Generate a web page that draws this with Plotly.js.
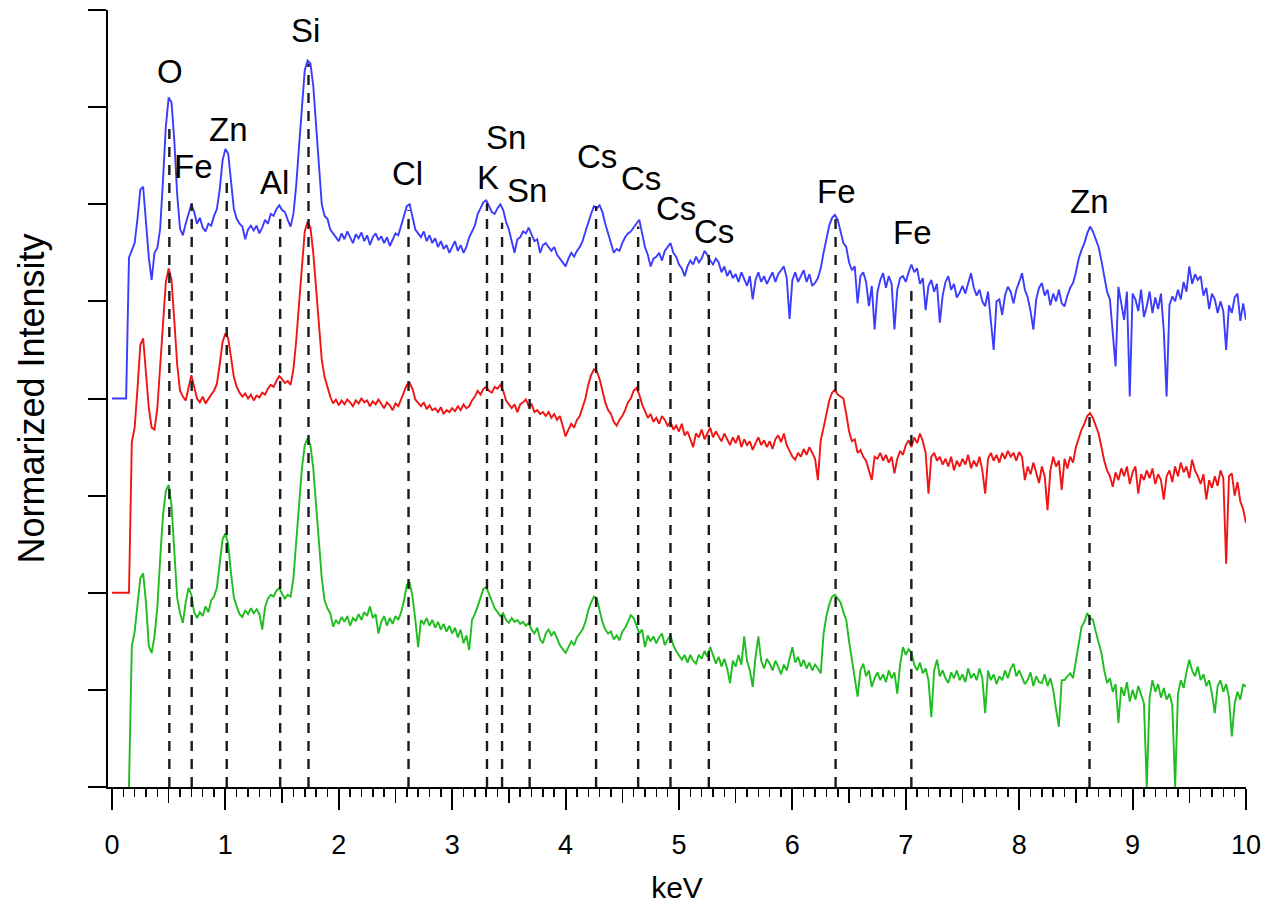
<!DOCTYPE html>
<html>
<head>
<meta charset="utf-8">
<script src="https://cdn.plot.ly/plotly-3.0.1.min.js"></script>
<style>html,body{margin:0;padding:0;background:#fff;}#chart{width:1266px;height:917px;}</style>
</head>
<body>
<div id="chart"></div>
<script>
// Energy grid of the spectra (keV): first channel and channel width
const energyStart = 0;
const energyStep = 0.025;

// Normalized intensities (stacked with offsets as in the figure), one value per channel from 0 to 10 keV
const blueSpectrum = [
4.00,4.00,4.00,4.00,4.00,4.00,5.45,5.52,5.60,5.85,
6.15,6.18,5.85,5.45,5.22,5.50,5.55,5.75,6.25,6.80,
7.10,7.05,6.65,6.10,5.75,5.68,5.80,5.90,6.00,5.92,
5.80,5.86,5.76,5.72,5.80,5.78,5.88,5.95,6.15,6.45,
6.57,6.52,6.25,5.95,5.85,5.80,5.77,5.64,5.74,5.78,
5.73,5.78,5.70,5.76,5.84,5.80,5.90,5.88,5.95,5.99,
5.94,5.92,5.84,5.77,5.90,6.20,6.60,7.05,7.38,7.48,
7.45,7.22,6.80,6.35,6.00,5.88,5.85,5.74,5.70,5.66,
5.62,5.70,5.64,5.72,5.66,5.60,5.69,5.65,5.71,5.62,
5.68,5.58,5.66,5.70,5.63,5.67,5.60,5.66,5.57,5.64,
5.70,5.68,5.78,5.88,5.98,6.00,5.86,5.74,5.70,5.66,
5.72,5.62,5.68,5.60,5.65,5.56,5.62,5.54,5.58,5.50,
5.56,5.62,5.52,5.58,5.50,5.56,5.66,5.72,5.78,5.90,
5.96,6.02,6.04,5.98,5.92,5.90,5.96,6.00,5.94,5.82,
5.74,5.62,5.50,5.64,5.66,5.72,5.70,5.76,5.68,5.62,
5.64,5.50,5.58,5.60,5.56,5.52,5.56,5.48,5.44,5.40,
5.36,5.44,5.50,5.46,5.52,5.56,5.62,5.72,5.82,5.90,
5.98,5.96,5.99,5.92,5.80,5.70,5.58,5.50,5.54,5.52,
5.60,5.66,5.70,5.72,5.76,5.80,5.84,5.70,5.56,5.48,
5.36,5.44,5.46,5.50,5.42,5.52,5.56,5.60,5.50,5.46,
5.38,5.34,5.26,5.36,5.42,5.38,5.46,5.40,5.44,5.52,
5.48,5.42,5.38,5.44,5.40,5.30,5.36,5.26,5.32,5.24,
5.28,5.20,5.30,5.22,5.16,5.26,5.02,5.22,5.30,5.20,
5.26,5.18,5.24,5.30,5.20,5.28,5.32,5.36,5.24,4.82,
5.22,5.30,5.20,5.26,5.32,5.20,5.28,5.16,5.19,5.24,
5.34,5.50,5.64,5.78,5.86,5.89,5.84,5.72,5.60,5.56,
5.40,5.32,5.36,4.98,5.26,5.30,5.20,4.95,5.16,4.71,
5.10,5.22,5.29,5.14,5.26,5.18,4.71,5.12,5.24,5.26,
5.20,5.30,5.38,5.30,5.34,5.18,5.24,4.91,5.16,5.22,
5.10,5.18,4.78,5.06,5.20,5.26,5.12,5.18,5.04,5.09,
5.16,5.08,5.20,5.29,5.14,5.06,5.12,5.00,4.95,5.10,
4.80,4.50,5.00,5.02,4.86,5.06,5.15,5.10,4.98,5.12,
5.20,5.29,5.12,5.04,4.90,4.71,5.02,5.14,5.19,5.06,
5.12,4.96,5.08,5.00,5.12,4.98,4.95,5.06,5.14,5.19,
5.30,5.44,5.53,5.60,5.70,5.77,5.72,5.63,5.56,5.42,
5.26,5.10,5.02,4.70,4.33,5.15,4.96,4.81,5.10,4.02,
5.08,5.02,4.90,5.12,4.84,4.95,5.10,4.88,5.04,4.92,
5.08,4.70,4.02,4.96,5.05,5.00,5.12,5.02,5.20,5.10,
5.36,5.18,5.28,5.22,5.26,5.06,5.14,4.92,5.08,5.02,
4.88,5.00,4.90,4.50,4.96,4.88,5.04,5.08,4.80,4.98,
4.81];

const redSpectrum = [
2.00,2.00,2.00,2.00,2.00,2.00,2.00,3.55,3.70,4.10,
4.55,4.62,4.30,3.90,3.70,3.68,3.90,4.30,4.80,5.20,
5.34,5.22,4.80,4.35,4.08,4.02,3.98,4.12,4.24,4.12,
4.00,3.96,4.02,3.95,4.00,4.04,4.08,4.15,4.35,4.58,
4.67,4.62,4.42,4.22,4.12,4.06,4.02,4.05,4.00,4.04,
3.98,4.03,4.01,4.06,4.04,4.10,4.14,4.12,4.18,4.23,
4.20,4.16,4.18,4.14,4.30,4.60,4.98,5.40,5.72,5.82,
5.76,5.50,5.10,4.70,4.40,4.22,4.12,4.02,3.95,3.99,
3.93,3.98,3.94,3.99,3.96,3.92,3.98,3.95,4.00,3.96,
3.98,3.92,3.97,3.94,3.99,3.94,3.90,3.96,3.93,3.88,
3.95,3.92,4.00,4.08,4.14,4.16,4.10,3.99,3.96,3.92,
3.96,3.89,3.93,3.88,3.90,3.86,3.91,3.84,3.88,3.86,
3.90,3.87,3.92,3.88,3.94,3.90,3.92,3.98,4.02,4.08,
4.04,4.10,4.12,4.08,4.06,4.12,4.10,4.14,4.08,3.98,
3.94,3.90,3.94,3.86,3.94,3.96,3.99,3.92,3.94,3.86,
3.88,3.84,3.86,3.82,3.86,3.80,3.84,3.78,3.82,3.70,
3.61,3.68,3.74,3.70,3.78,3.82,3.90,4.00,4.14,4.24,
4.30,4.28,4.20,4.08,3.96,3.88,3.84,3.76,3.72,3.78,
3.82,3.88,3.96,4.00,4.08,4.11,4.04,3.94,3.86,3.80,
3.84,3.76,3.80,3.74,3.82,3.78,3.72,3.76,3.68,3.72,
3.66,3.74,3.62,3.66,3.58,3.50,3.64,3.60,3.68,3.58,
3.64,3.70,3.60,3.66,3.61,3.56,3.64,3.58,3.52,3.60,
3.54,3.62,3.50,3.58,3.52,3.56,3.47,3.54,3.60,3.52,
3.57,3.50,3.56,3.48,3.58,3.62,3.55,3.64,3.52,3.46,
3.40,3.37,3.44,3.40,3.48,3.42,3.50,3.44,3.38,3.16,
3.57,3.70,3.86,3.98,4.06,4.09,4.04,4.02,4.00,3.84,
3.66,3.56,3.58,3.44,3.47,3.40,3.36,3.26,3.16,3.40,
3.38,3.44,3.36,3.42,3.34,3.40,3.23,3.38,3.46,3.42,
3.52,3.57,3.50,3.60,3.54,3.64,3.56,3.44,3.02,3.40,
3.44,3.36,3.40,3.32,3.38,3.30,3.40,3.26,3.36,3.30,
3.38,3.32,3.42,3.28,3.36,3.30,3.40,3.26,3.02,3.38,
3.44,3.36,3.42,3.34,3.44,3.38,3.46,3.40,3.44,3.36,
3.45,3.40,3.16,3.30,3.22,3.34,3.24,3.13,3.30,3.20,
2.85,3.26,3.40,3.30,3.36,3.06,3.38,3.28,3.40,3.34,
3.50,3.60,3.68,3.74,3.82,3.85,3.80,3.72,3.64,3.50,
3.36,3.26,3.20,3.09,3.24,3.16,3.28,3.20,3.30,3.12,
3.24,3.30,3.02,3.22,3.16,3.26,3.18,3.28,3.12,3.22,
3.16,2.96,3.20,3.26,3.14,3.30,3.20,3.34,3.24,3.30,
3.18,3.37,3.26,3.20,3.12,3.22,2.96,3.16,3.08,3.20,
3.10,3.26,3.18,2.30,3.20,3.23,3.00,3.14,2.94,2.86,
2.72];

const greenSpectrum = [
null,null,null,null,null,null,0.00,1.45,1.60,1.85,
2.15,2.20,1.90,1.45,1.38,1.55,1.85,2.35,2.80,3.05,
3.11,2.90,2.40,1.95,1.79,1.69,1.90,2.05,1.98,1.80,
1.74,1.80,1.76,1.86,1.80,1.92,1.96,2.05,2.30,2.55,
2.61,2.50,2.20,1.95,1.86,1.78,1.75,1.82,1.78,1.84,
1.79,1.83,1.78,1.62,1.85,1.94,1.98,1.96,2.02,2.05,
1.99,1.94,1.98,1.96,2.15,2.50,2.90,3.28,3.52,3.59,
3.52,3.28,2.90,2.50,2.15,1.92,1.84,1.79,1.65,1.72,
1.68,1.75,1.70,1.76,1.66,1.74,1.71,1.78,1.72,1.80,
1.76,1.86,1.74,1.78,1.58,1.70,1.76,1.66,1.74,1.68,
1.76,1.72,1.80,1.92,2.08,2.11,1.96,1.72,1.44,1.72,
1.68,1.74,1.66,1.72,1.64,1.70,1.62,1.68,1.60,1.66,
1.58,1.64,1.54,1.62,1.48,1.56,1.41,1.72,1.78,1.86,
1.96,2.04,2.06,1.98,1.90,1.84,1.80,1.76,1.79,1.72,
1.69,1.74,1.70,1.72,1.68,1.70,1.66,1.69,1.62,1.58,
1.64,1.52,1.48,1.58,1.62,1.56,1.60,1.52,1.46,1.42,
1.38,1.44,1.50,1.46,1.54,1.58,1.62,1.70,1.82,1.90,
1.96,1.94,1.82,1.70,1.62,1.58,1.60,1.52,1.56,1.51,
1.60,1.64,1.70,1.77,1.74,1.66,1.58,1.62,1.44,1.56,
1.50,1.55,1.48,1.54,1.58,1.46,1.52,1.56,1.46,1.40,
1.36,1.31,1.36,1.28,1.36,1.30,1.27,1.36,1.32,1.40,
1.34,1.44,1.36,1.27,1.34,1.24,1.32,1.22,1.07,1.30,
1.24,1.36,1.26,1.55,1.30,1.20,1.03,1.34,1.55,1.30,
1.22,1.32,1.27,1.20,1.30,1.24,1.16,1.26,1.20,1.32,
1.44,1.28,1.34,1.24,1.31,1.22,1.28,1.20,1.26,1.22,
1.17,1.58,1.76,1.88,1.96,1.98,1.94,1.90,1.80,1.72,
1.50,1.31,1.10,0.93,1.20,1.27,1.14,1.20,1.03,1.12,
1.18,1.10,1.16,1.08,1.20,1.12,1.18,0.96,1.26,1.44,
1.36,1.42,1.38,1.26,1.20,1.28,1.17,1.22,1.10,0.72,
1.20,1.31,1.14,1.20,1.12,1.07,1.18,1.12,1.20,1.10,
1.16,1.08,1.22,1.12,1.17,1.10,1.22,1.12,0.76,1.20,
1.10,1.16,1.06,1.14,1.10,1.20,1.12,1.22,1.27,1.14,
1.20,1.12,1.06,1.10,1.18,1.04,1.14,1.08,1.07,1.16,
1.04,1.12,1.00,0.80,0.62,1.10,1.10,1.14,1.17,1.12,
1.30,1.50,1.65,1.70,1.79,1.74,1.72,1.60,1.48,1.38,
1.20,1.07,1.12,0.98,1.06,0.66,1.03,0.94,1.08,0.88,
1.00,0.90,1.04,0.96,0.86,0.00,0.92,1.10,0.98,1.06,
0.92,1.02,0.90,0.96,0.84,0.00,0.96,1.10,1.02,1.18,
1.31,1.20,1.14,1.24,1.10,1.16,1.04,1.10,0.96,0.76,
1.04,1.10,0.98,1.06,0.92,0.52,0.86,0.98,0.90,1.06,
1.03];

// Peak identification: element, line energy (keV), top of marker line, label anchor (keV, level)
const peakElements = ['O','Fe','Zn','Al','Si','Cl','K','Sn','Sn','Cs','Cs','Cs','Cs','Fe','Fe','Zn'];
const peakEnergies = [0.506,0.703,1.012,1.483,1.733,2.615,3.307,3.440,3.683,4.269,4.640,4.925,5.263,6.381,7.049,8.620];
const peakLineTops = [6.85,6.01,6.29,5.91,7.45,5.94,6.01,5.81,5.74,5.98,5.77,5.56,5.50,5.87,5.19,5.53];
const labelEnergies = [0.512,0.715,1.024,1.430,1.703,2.608,3.314,3.478,3.660,4.278,4.669,4.978,5.307,6.390,7.058,8.620];
const labelLevels = [7.37,6.385,6.77,6.225,7.786,6.313,6.277,6.684,6.138,6.491,6.262,5.953,5.719,6.131,5.711,6.03];

// Axis ticks
const xTickValues = [0,1,2,3,4,5,6,7,8,9,10];
const xTickLabels = ['0','1','2','3','4','5','6','7','8','9','10'];
const xHalfTicks = [0.5,1.5,2.5,3.5,4.5,5.5,6.5,7.5,8.5,9.5];
const yTickValues = [0,1,2,3,4,5,6,7,8];

const FONT = 'Liberation Sans, Arial, Helvetica, sans-serif';

function spectrumTrace(values, color) {
  return {
    type: 'scatter', mode: 'lines',
    x0: energyStart, dx: energyStep, y: values,
    line: {color: color, width: 1.9},
    connectgaps: false, showlegend: false, hoverinfo: 'skip'
  };
}

const traces = [
  spectrumTrace(greenSpectrum, '#1fbd1f'),
  spectrumTrace(redSpectrum, '#f01414'),
  spectrumTrace(blueSpectrum, '#3c3cff'),
  {type: 'scatter', mode: 'lines', x: [], y: [], xaxis: 'x2', yaxis: 'y', showlegend: false, hoverinfo: 'skip'}
];

const shapes = peakEnergies.map((e, i) => ({
  type: 'line', xref: 'x', yref: 'y',
  x0: e, x1: e, y0: 0, y1: peakLineTops[i],
  line: {color: '#1a1a1a', width: 2.4, dash: '10px,8px'},
  layer: 'above'
}));

const annotations = peakElements.map((t, i) => ({
  text: t, xref: 'x', yref: 'y', x: labelEnergies[i], y: labelLevels[i],
  showarrow: false, xanchor: 'center', yanchor: 'middle',
  font: {family: FONT, size: 33, color: '#000'}
}));

const xRange = [-0.035, 10];

const layout = {
  width: 1266, height: 917,
  margin: {l: 108, r: 20, t: 10, b: 130},
  paper_bgcolor: '#fff', plot_bgcolor: '#fff',
  showlegend: false,
  font: {family: FONT, color: '#000'},
  xaxis: {
    range: xRange, showgrid: false, zeroline: false,
    showline: true, linecolor: '#000', linewidth: 2,
    tickmode: 'array', tickvals: xTickValues, ticktext: xTickLabels,
    ticks: 'outside', ticklen: 21, tickwidth: 2, tickcolor: '#000',
    ticklabelstandoff: 12,
    tickfont: {family: FONT, size: 27, color: '#000'},
    minor: {tick0: 0, dtick: 0.1, ticks: 'outside', ticklen: 8, tickwidth: 1.5, tickcolor: '#000', showgrid: false},
    title: {text: 'keV', font: {family: FONT, size: 30, color: '#000'}, standoff: 18}
  },
  xaxis2: {
    range: xRange, overlaying: 'x', anchor: 'y', side: 'bottom',
    showgrid: false, zeroline: false, showline: false,
    tickmode: 'array', tickvals: xHalfTicks, showticklabels: false,
    ticks: 'outside', ticklen: 15, tickwidth: 1.5, tickcolor: '#000'
  },
  yaxis: {
    range: [0, 8], showgrid: false, zeroline: false,
    showline: true, linecolor: '#000', linewidth: 2,
    tickmode: 'array', tickvals: yTickValues, showticklabels: false,
    ticks: 'outside', ticklen: 18, tickwidth: 2, tickcolor: '#000',
    title: {text: 'Normarized Intensity', font: {family: FONT, size: 36, color: '#000'}, standoff: 32}
  },
  shapes: shapes,
  annotations: annotations
};

Plotly.newPlot('chart', traces, layout, {staticPlot: true, displayModeBar: false});
</script>
</body>
</html>
